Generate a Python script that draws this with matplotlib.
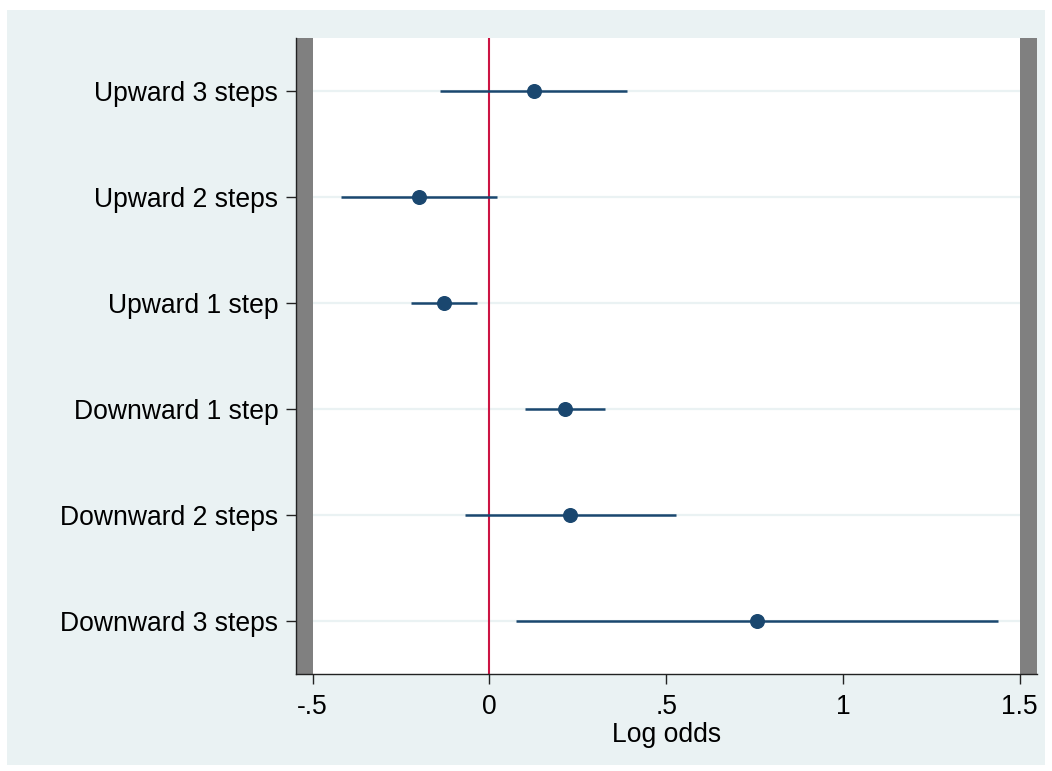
import matplotlib.pyplot as plt
from matplotlib.patches import Rectangle

# данные
labels = ["Upward 3 steps", "Upward 2 steps", "Upward 1 step",
          "Downward 1 step", "Downward 2 steps", "Downward 3 steps"]
estimates = [0.125, -0.199, -0.128, 0.214, 0.228, 0.757]
ci_low = [-0.139, -0.420, -0.222, 0.101, -0.069, 0.075]
ci_high = [0.390, 0.022, -0.035, 0.327, 0.528, 1.440]

xticks = [-0.5, 0, 0.5, 1, 1.5]
xticklabels = ["-.5", "0", ".5", "1", "1.5"]

BG = "#EAF2F3"
NAVY = "#1A476F"
RED = "#CC1443"

plt.rcParams["font.family"] = ["Liberation Sans", "DejaVu Sans"]

fig = plt.figure(figsize=(10.52, 7.71), dpi=100)
fig.patch.set_facecolor("white")
fig.patches.append(Rectangle((7 / 1052, 1 - 765 / 771), 1038 / 1052, 755 / 771,
                             transform=fig.transFigure, facecolor=BG,
                             edgecolor="none", zorder=-10))

ax = fig.add_axes([0.2811, 0.1258, 0.7046, 0.8249])
ax.set_facecolor("white")

ypos = list(range(len(labels), 0, -1))

# серые полосы по краям
ax.axvspan(-0.548, -0.5, color="#808080", lw=0, zorder=1)
ax.axvspan(1.5, 1.549, color="#808080", lw=0, zorder=1)

for y in ypos:
    ax.axhline(y, color=BG, lw=1.6, zorder=0.5)

ax.axvline(0, color=RED, lw=1.5, zorder=2)

ax.hlines(ypos, ci_low, ci_high, color=NAVY, lw=1.8, zorder=3)
ax.plot(estimates, ypos, "o", color=NAVY, ms=9.8, zorder=4)

ax.set_xlim(-0.548, 1.549)
ax.set_ylim(0.5, 6.5)
ax.set_yticks(ypos)
ax.set_yticklabels(labels, fontsize=19.1)
ax.set_xticks(xticks)
ax.set_xticklabels(xticklabels, fontsize=19.1)
ax.set_xlabel("Log odds", fontsize=19.1, labelpad=1.5)

for side in ["top", "right"]:
    ax.spines[side].set_visible(False)
for side in ["left", "bottom"]:
    ax.spines[side].set_linewidth(1.0)
    ax.spines[side].set_color("#222222")
ax.tick_params(axis="y", length=7.5, width=1.0, color="#222222", pad=5)
ax.tick_params(axis="x", length=7.5, width=1.0, color="#222222", pad=7)

fig.savefig("out.png", dpi=100)
